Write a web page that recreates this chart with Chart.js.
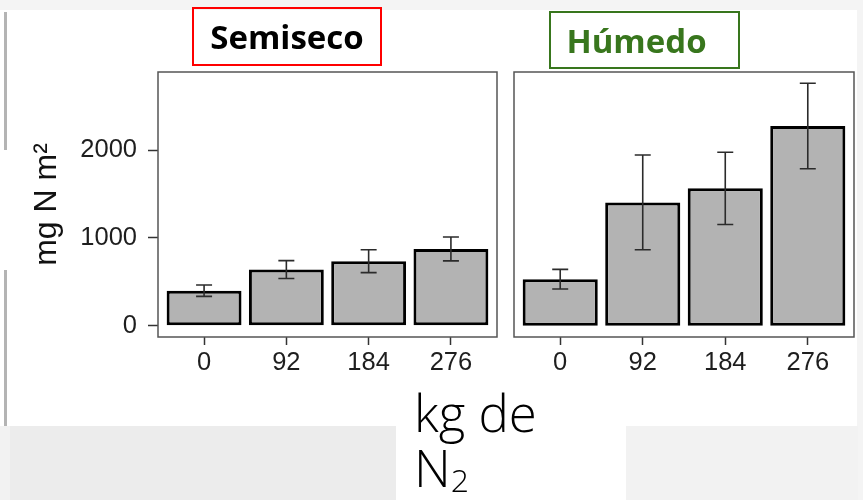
<!DOCTYPE html>
<html>
<head>
<meta charset="utf-8">
<script src="https://cdn.jsdelivr.net/npm/chart.js@4.4.1/dist/chart.umd.min.js"></script>
<style>
html,body{margin:0;padding:0;}
body{width:863px;height:500px;position:relative;overflow:hidden;background:#f4f4f4;}
.abs{position:absolute;}
.tbox{position:absolute;box-sizing:border-box;display:flex;align-items:center;justify-content:center;font-family:'Open Sans',sans-serif;font-weight:700;font-size:33px;line-height:1;}
#xl{position:absolute;left:414px;top:385px;font-family:'Open Sans',sans-serif;font-weight:300;font-size:51px;line-height:55px;color:#000;white-space:nowrap;}
#xl span{font-size:32px;line-height:0;vertical-align:-5px;}
</style>
</head>
<body>
<div class="abs" style="left:0;top:10px;width:857px;height:416px;background:#fff"></div>
<div class="abs" style="left:0;top:426px;width:10px;height:74px;background:#f2f2f2"></div>
<div class="abs" style="left:10px;top:426px;width:386px;height:74px;background:#ececec"></div>
<div class="abs" style="left:396px;top:426px;width:230px;height:74px;background:#fff"></div>
<div class="abs" style="left:626px;top:426px;width:232px;height:74px;background:#f2f2f2"></div>
<div class="abs" style="left:4px;top:12px;width:3px;height:138px;background:#b4b4b4"></div>
<div class="abs" style="left:4px;top:270px;width:3px;height:156px;background:#b4b4b4"></div>

<canvas id="c1" class="abs" style="left:0;top:0" width="505" height="400"></canvas>
<canvas id="c2" class="abs" style="left:505px;top:0" width="358" height="400"></canvas>

<div id="t1" class="tbox" style="left:192px;top:7px;width:190px;height:59px;border:2px solid #ff0000;color:#000;"></div>
<div id="t2" class="tbox" style="left:549px;top:11px;width:191px;height:58px;border:2px solid #38761d;color:#38761d;padding-right:16px;"></div>
<div id="xl"></div>

<script>
// ---- data ----
const categories = ['0', '92', '184', '276'];
const semisecoValues = [400, 640, 735, 875];
const semisecoErrors = [65, 102, 130, 136];
const humedoValues = [530, 1405, 1565, 2275];
const humedoErrors = [112, 540, 411, 487];
const yTickValues = [0, 1000, 2000];
const yMin = -128;
const yMax = 2890;
const panelTitles = ['Semiseco', 'Húmedo'];
const yAxisTitle = 'mg N m²';
const xAxisTitleLines = ['kg de', 'N', '2'];

document.getElementById('t1').textContent = panelTitles[0];
document.getElementById('t2').textContent = panelTitles[1];
const xl = document.getElementById('xl');
xl.appendChild(document.createTextNode(xAxisTitleLines[0]));
xl.appendChild(document.createElement('br'));
xl.appendChild(document.createTextNode(xAxisTitleLines[1]));
const sub = document.createElement('span');
sub.textContent = xAxisTitleLines[2];
xl.appendChild(sub);

const tickFont = {family: "'Liberation Sans', Arial, sans-serif", size: 25.5};
const tickColor = '#1e1e1e';

const errorBarPlugin = {
  id: 'errorBars',
  afterDatasetsDraw(chart, args, opts) {
    const {ctx} = chart;
    const x = chart.scales.x, y = chart.scales.y;
    const ds = chart.data.datasets[0];
    const errs = opts.errors || [];
    ctx.save();
    ctx.strokeStyle = '#2b2b2b';
    ctx.lineWidth = 1.6;
    ds.data.forEach((pt, i) => {
      const px = x.getPixelForValue(pt.x);
      const top = y.getPixelForValue(pt.y + errs[i]);
      const bot = y.getPixelForValue(pt.y - errs[i]);
      ctx.beginPath();
      ctx.moveTo(px, top); ctx.lineTo(px, bot);
      ctx.moveTo(px - 8, top); ctx.lineTo(px + 8, top);
      ctx.moveTo(px - 8, bot); ctx.lineTo(px + 8, bot);
      ctx.stroke();
    });
    ctx.restore();
  }
};

const panelBorderPlugin = {
  id: 'panelBorder',
  afterDraw(chart) {
    const {ctx, chartArea: a} = chart;
    ctx.save();
    ctx.strokeStyle = '#555';
    ctx.lineWidth = 1.5;
    ctx.strokeRect(a.left, a.top, a.right - a.left, a.bottom - a.top);
    ctx.restore();
  }
};

function makePanel(canvasId, values, errors, showY, padding) {
  return new Chart(document.getElementById(canvasId), {
    type: 'bar',
    data: {
      datasets: [{
        data: values.map((v, i) => ({x: i, y: v})),
        backgroundColor: '#b3b3b3',
        borderColor: '#000',
        borderWidth: 3,
        borderSkipped: false,
        barPercentage: 0.91,
        categoryPercentage: 1.0
      }]
    },
    options: {
      responsive: false,
      animation: false,
      layout: {padding: padding},
      plugins: {
        legend: {display: false},
        tooltip: {enabled: false},
        errorBars: {errors: errors}
      },
      scales: {
        x: {
          type: 'linear',
          offset: false,
          min: -0.56,
          max: 3.56,
          afterBuildTicks: s => { s.ticks = categories.map((c, i) => ({value: i})); },
          ticks: {
            callback: v => categories[v],
            font: tickFont,
            color: tickColor,
            padding: 3,
            autoSkip: false,
            maxRotation: 0
          },
          grid: {offset: false, drawOnChartArea: false, drawTicks: true, tickLength: 8, tickColor: '#333', tickWidth: 1.5, color: '#333'},
          border: {display: false},
          afterFit: s => { s.height = 50; }
        },
        y: {
          display: showY,
          min: yMin,
          max: yMax,
          afterBuildTicks: s => { s.ticks = yTickValues.map(v => ({value: v})); },
          ticks: {font: tickFont, color: tickColor, padding: 11, callback: v => String(v)},
          grid: {drawOnChartArea: false, drawTicks: true, tickLength: 10, tickColor: '#333', tickWidth: 1.5, color: '#333'},
          border: {display: false},
          title: {
            display: true,
            text: yAxisTitle,
            font: {family: "'Liberation Sans', Arial, sans-serif", size: 32},
            color: '#111',
            padding: {top: 28, bottom: 0}
          },
          afterFit: s => { if (showY) s.width = 158; }
        }
      }
    },
    plugins: [errorBarPlugin, panelBorderPlugin]
  });
}

makePanel('c1', semisecoValues, semisecoErrors, true, {left: 0, top: 72, right: 8, bottom: 13});
makePanel('c2', humedoValues, humedoErrors, false, {left: 9, top: 72, right: 9, bottom: 13});
</script>
</body>
</html>
